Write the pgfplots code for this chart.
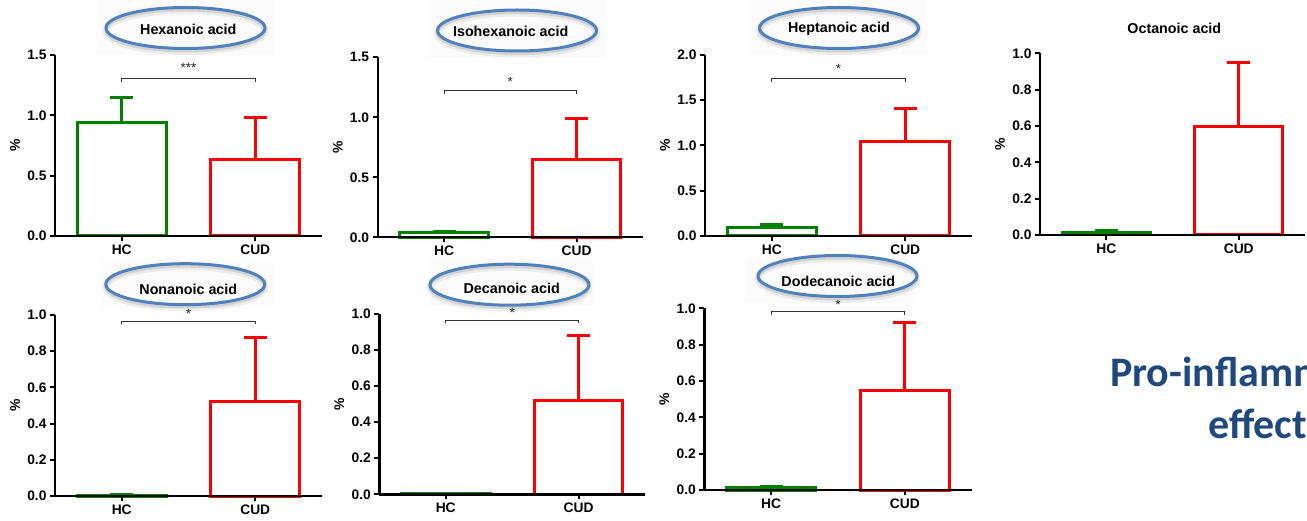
\documentclass[border=0pt]{standalone}
\usepackage{fontspec}
\setmainfont{Liberation Sans}
\newfontfamily\calibri{Carlito}
\usepackage{pgfplots}
\pgfplotsset{compat=1.18}

\definecolor{hcgreen}{RGB}{0,128,0}
\definecolor{cudred}{RGB}{255,0,0}
\definecolor{ovalblue}{RGB}{79,129,189}
\definecolor{slideblue}{RGB}{31,73,125}

\pgfplotsset{
  acidpanel/.style={
    scale only axis, anchor=south west,
    xmin=0.5, xmax=2.5, ymin=0,
    axis x line*=bottom, axis y line*=left,
    axis line style={line width=2.4pt, black},
    xtick={1,2}, xticklabels={HC,CUD},
    tick align=outside,
    major tick length=5pt,
    tick style={line width=2pt, black},
    ticklabel style={font=\fontsize{13.8}{14}\selectfont\bfseries},
    /pgf/number format/assume math mode=true,
    yticklabel style={/pgf/number format/.cd, fixed, fixed zerofill, precision=1},
    ylabel={\%},
    ylabel style={font=\fontsize{14}{14}\selectfont\bfseries,
      at={([xshift=-40pt]axis description cs:0,0.5)}, anchor=center},
    ybar, bar shift=0pt, bar width=0.667,
    axis on top, clip=false,
  },
  hcbar/.style={draw=hcgreen, fill=white, line width=3pt,
    error bars/y dir=plus, error bars/y explicit,
    error bars/error bar style={line width=3pt, hcgreen},
    error bars/error mark options={rotate=90, line width=3pt, mark size=11.5pt, hcgreen}},
  cudbar/.style={draw=cudred, fill=white, line width=3pt,
    error bars/y dir=plus, error bars/y explicit,
    error bars/error bar style={line width=3pt, cudred},
    error bars/error mark options={rotate=90, line width=3pt, mark size=11.5pt, cudred}},
}

% significance bracket between the two groups: #1 = height, #2 = stars, #3 = star offset
\newcommand{\sigbracket}[3]{%
  \draw[line width=0.9pt, black!80] ([yshift=-3.5pt]axis cs:1,#1) -- (axis cs:1,#1)
     -- (axis cs:2,#1) -- ([yshift=-3.5pt]axis cs:2,#1);
  \node[font=\fontsize{13.5}{13.5}\selectfont, text=black!85, inner sep=0pt]
     at ([yshift=#3]axis cs:1.5,#1) {#2};
}

% oval title: #1 = oval centre, #2 = text centre, #3 = text
\newcommand{\ovaltitle}[3]{%
  \draw[black, opacity=0.06, line width=7pt] ([yshift=-3pt]#1) ellipse [x radius=79.5pt, y radius=20.5pt];
  \draw[black, opacity=0.10, line width=3pt] ([yshift=-2.5pt]#1) ellipse [x radius=79.5pt, y radius=20.5pt];
  \draw[ovalblue, line width=3pt] (#1) ellipse [x radius=79.5pt, y radius=20.5pt];
  \node[font=\fontsize{14.3}{14.3}\selectfont\bfseries, inner sep=0pt] at (#2) {#3};
}

\begin{document}
\begin{tikzpicture}
\path[use as bounding box] (0pt,0pt) rectangle (1307pt,520pt);
\clip (0pt,0pt) rectangle (1307pt,520pt);
\fill[white] (0pt,0pt) rectangle (1307pt,520pt);

% faint backgrounds behind the pasted oval titles
\fill[black!1.5] (97pt,465pt) rectangle (275pt,520pt);
\fill[black!1.5] (427pt,462pt) rectangle (607pt,520pt);
\fill[black!1.5] (747pt,465pt) rectangle (927pt,520pt);
\fill[black!1.5] (100pt,212pt) rectangle (273pt,260pt);
\fill[black!1.5] (428pt,214pt) rectangle (593pt,262pt);
\fill[black!1.5] (745pt,217pt) rectangle (917pt,262pt);

% Hexanoic acid
\begin{axis}[acidpanel, at={(55pt,284pt)}, width=267pt, height=181pt,
  ymax=1.5, ytick={0,0.5,1,1.5}]
  \addplot[hcbar] coordinates {(1,0.94) +- (0,0.206)};
  \addplot[cudbar] coordinates {(2,0.636) +- (0,0.348)};
  \sigbracket{1.307}{***}{10pt}
\end{axis}

% Isohexanoic acid
\begin{axis}[acidpanel, at={(377.7pt,282.7pt)}, width=265.3pt, height=180pt,
  ymax=1.5, ytick={0,0.5,1,1.5}]
  \addplot[hcbar] coordinates {(1,0.038) +- (0,0.012)};
  \addplot[cudbar] coordinates {(2,0.65) +- (0,0.336)};
  \sigbracket{1.22}{*}{9.5pt}
\end{axis}

% Heptanoic acid
\begin{axis}[acidpanel, at={(705pt,284pt)}, width=267pt, height=181pt,
  ymax=2, ytick={0,0.5,1,1.5,2}]
  \addplot[hcbar] coordinates {(1,0.096) +- (0,0.034)};
  \addplot[cudbar] coordinates {(2,1.046) +- (0,0.364)};
  \sigbracket{1.74}{*}{9.3pt}
\end{axis}

% Octanoic acid
\begin{axis}[acidpanel, at={(1040pt,285pt)}, width=265pt, height=181.7pt,
  ymax=1, ytick={0,0.2,0.4,0.6,0.8,1}]
  \addplot[hcbar] coordinates {(1,0.013) +- (0,0.011)};
  \addplot[cudbar] coordinates {(2,0.598) +- (0,0.35)};
\end{axis}

% Nonanoic acid
\begin{axis}[acidpanel, at={(55pt,24pt)}, width=267pt, height=181pt,
  ymax=1, ytick={0,0.2,0.4,0.6,0.8,1}]
  \addplot[hcbar] coordinates {(1,0.005) +- (0,0.002)};
  \addplot[cudbar] coordinates {(2,0.521) +- (0,0.356)};
  \sigbracket{0.967}{*}{7.5pt}
\end{axis}

% Decanoic acid
\begin{axis}[acidpanel, at={(379.3pt,25.7pt)}, width=265.7pt, height=180.3pt,
  ymax=1, ytick={0,0.2,0.4,0.6,0.8,1}]
  \addplot[hcbar] coordinates {(1,0.005) +- (0,0.002)};
  \addplot[cudbar] coordinates {(2,0.523) +- (0,0.36)};
  \sigbracket{0.967}{*}{7pt}
\end{axis}

% Dodecanoic acid
\begin{axis}[acidpanel, at={(704.3pt,30pt)}, width=267.4pt, height=181.7pt,
  ymax=1, ytick={0,0.2,0.4,0.6,0.8,1}]
  \addplot[hcbar] coordinates {(1,0.012) +- (0,0.006)};
  \addplot[cudbar] coordinates {(2,0.55) +- (0,0.371)};
  \sigbracket{0.985}{*}{6pt}
\end{axis}

% titles
\ovaltitle{185.5pt,492pt}{188.3pt,490.7pt}{Hexanoic acid}
\ovaltitle{517pt,489.5pt}{510.7pt,489pt}{Isohexanoic acid}
\ovaltitle{839pt,492pt}{839pt,490.7pt}{Heptanoic acid}
\node[font=\fontsize{14.3}{14.3}\selectfont\bfseries, inner sep=0pt] at (1174.3pt,491.7pt) {Octanoic acid};
\ovaltitle{185.3pt,235.8pt}{188.3pt,230.7pt}{Nonanoic acid}
\ovaltitle{509.5pt,235.3pt}{511.7pt,231.7pt}{Decanoic acid}
\ovaltitle{837.5pt,244pt}{838.3pt,238.3pt}{Dodecanoic acid}

% slide caption
\node[anchor=base west, inner sep=0pt, text=slideblue,
  font=\calibri\bfseries\fontsize{42}{50}\selectfont] at (1110pt,133.3pt) {Pro-inflammatory};
\node[anchor=base west, inner sep=0pt, text=slideblue,
  font=\calibri\bfseries\fontsize{42}{50}\selectfont] at (1208pt,81.7pt) {effect};
\end{tikzpicture}
\end{document}
